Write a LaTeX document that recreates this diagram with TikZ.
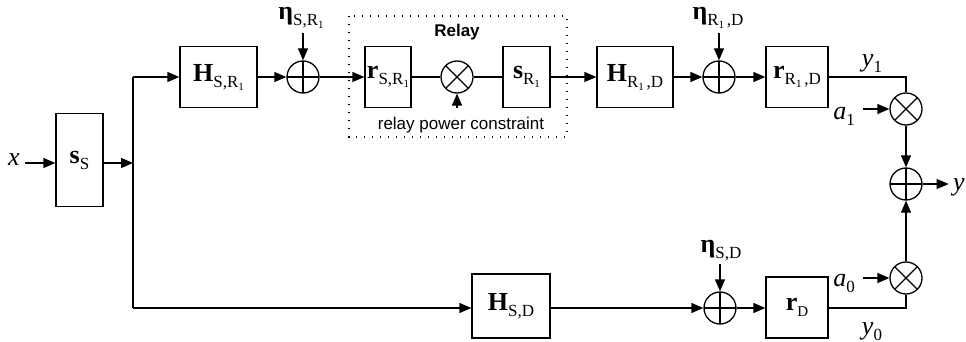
\documentclass[tikz,border=0pt]{standalone}
\usepackage{fontspec}
\setmainfont{Liberation Serif}
\newfontfamily\arialf{Liberation Sans}
\usetikzlibrary{arrows.meta}
\newcommand\bigf{\fontsize{26}{28}\selectfont}
\newcommand\subf[1]{\raisebox{-6pt}{\fontsize{17}{18}\selectfont #1}}
\newcommand\ssubf[1]{\raisebox{-3pt}{\fontsize{11}{12}\selectfont #1}}
\newcommand\lbl[2]{{\bigf #1}\subf{#2}}
\begin{document}
\begin{tikzpicture}[x=1pt,y=-1pt,line width=1.3pt,
  arr/.style={-{Triangle[length=12pt,width=10pt]}},
  blk/.style={draw,minimum height=61pt,inner sep=0pt},
  lab/.style={inner sep=0pt,anchor=base},
  sumc/.style={circle,draw,minimum size=32pt,inner sep=0pt,
    path picture={\draw[line width=1.3pt] (path picture bounding box.north) -- (path picture bounding box.south)
      (path picture bounding box.west) -- (path picture bounding box.east);}},
  mulc/.style={circle,draw,minimum size=32pt,inner sep=0pt,
    path picture={\draw[line width=1.3pt] (path picture bounding box.north west) -- (path picture bounding box.south east)
      (path picture bounding box.north east) -- (path picture bounding box.south west);}},
  relaybox/.style={line width=1.2pt,dash pattern=on 1.4pt off 6.6pt},
  sanslab/.style={inner sep=0pt,anchor=base,font=\arialf\fontsize{17}{18}\selectfont}
]
\useasboundingbox (0,0) rectangle (966,342);

% relay frame
\draw[relaybox] (349,16) rectangle (567,137);
\node[sanslab,font=\arialf\bfseries\fontsize{17}{18}\selectfont] (relay) at (457,37) {Relay};
\node[sanslab] (rpc) at (461,129) {relay power constraint};

% source
\node[lab] (xl) at (14,165) {\bigf\itshape x};
\node[blk,minimum width=47pt,minimum height=93pt] (sS) at (79.5,160) {\lbl{\textbf{s}}{S}};
\coordinate (J) at (133,163);
\coordinate (JT) at (133,77);
\coordinate (JB) at (133,308);

% top branch
\node[blk,minimum width=77pt] (HSR) at (218.5,77) {\lbl{\textbf{H}}{S,R\ssubf{1}}};
\node[sumc] (sum1) at (303,77) {};
\node[lab] (eta1) at (301,20) {\lbl{\textbf{η}}{S,R\ssubf{1}}};
\node[blk,minimum width=46pt] (rSR) at (388,77) {\lbl{\textbf{r}}{S,R\ssubf{1}}};
\node[mulc] (mult1) at (457,77) {};
\coordinate (pc) at (457,108);
\node[blk,minimum width=47pt] (sR) at (526.5,77) {\lbl{\textbf{s}}{R\ssubf{1}}};
\node[blk,minimum width=76pt] (HRD) at (635,77) {\lbl{\textbf{H}}{R\ssubf{1}\,,D}};
\node[sumc] (sum2) at (719,77) {};
\node[lab] (eta2) at (718,20) {\lbl{\textbf{η}}{R\ssubf{1}\,,D}};
\node[blk,minimum width=62pt] (rRD) at (797,77) {\lbl{\textbf{r}}{R\ssubf{1}\,,D}};

% combiner
\node[mulc] (mult2) at (906,109) {};
\node[sumc] (sum3) at (906,184) {};
\node[mulc] (mult3) at (906,278) {};
\node[lab] (y1) at (872,67) {\lbl{\itshape y}{1}};
\node[lab] (a1) at (844,120) {\lbl{\itshape a}{1}};
\node[lab] (a0) at (844,286) {\lbl{\itshape a}{0}};
\node[lab] (y0) at (872,334) {\lbl{\itshape y}{0}};
\node[lab] (yout) at (959,190) {\bigf\itshape y};

% bottom branch
\node[blk,minimum width=78pt,minimum height=64pt] (HSD) at (511,306) {\lbl{\textbf{H}}{S,D}};
\node[sumc] (sum4) at (720,308) {};
\node[lab] (eta3) at (721,252) {\lbl{\textbf{η}}{S,D}};
\node[blk,minimum width=62pt] (rD) at (797,307.5) {{\bigf\textbf{r}}\raisebox{-6pt}{\fontsize{15}{16}\selectfont D}};

% connectors
\draw[arr,shorten <=5pt] (xl.east |- J) -- (sS.west |- J);
\draw[arr] (sS.east |- J) -- (J);
\draw (JB) -- (JT);
\draw[arr] (JT) -- (HSR.west);
\draw[arr] (HSR.east) -- (sum1.west);
\draw[arr,shorten <=3pt] (eta1.south -| sum1.north) -- (sum1.north);
\draw[arr] (sum1.east) -- (rSR.west);
\draw (rSR.east) -- (mult1.west);
\draw[arr] (pc) -- (mult1.south);
\draw (mult1.east) -- (sR.west);
\draw[arr] (sR.east) -- (HRD.west);
\draw[arr] (HRD.east) -- (sum2.west);
\draw[arr,shorten <=3pt] (eta2.south -| sum2.north) -- (sum2.north);
\draw[arr] (sum2.east) -- (rRD.west);
\draw (rRD.east) -- (rRD.east -| mult2) -- (mult2.north);
\draw[arr,shorten <=8pt] (a1.east |- mult2) -- (mult2.west);
\draw[arr] (mult2.south) -- (sum3.north);
\draw[arr,shorten >=4pt] (sum3.east) -- (yout.west |- sum3);
\draw[arr] (mult3.north) -- (sum3.south);
\draw[arr,shorten <=8pt] (a0.east |- mult3) -- (mult3.west);
\draw[arr] (JB) -- (JB -| HSD.west);
\draw[arr] (HSD.east |- sum4) -- (sum4.west);
\draw[arr,shorten <=3pt] (eta3.south -| sum4.north) -- (sum4.north);
\draw[arr] (sum4.east) -- (sum4 -| rD.west);
\draw (sum4 -| rD.east) -- (sum4 -| mult3) -- (mult3.south);
\end{tikzpicture}
\end{document}
